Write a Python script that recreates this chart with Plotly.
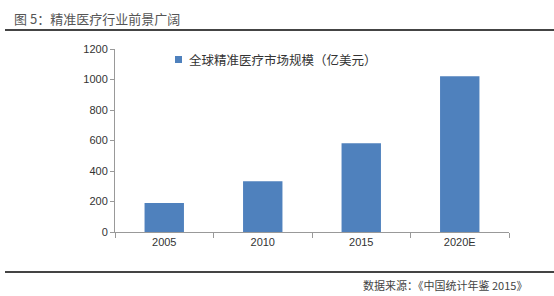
import plotly.graph_objects as go

categories = ["2005", "2010", "2015", "2020E"]
values = [190, 332, 582, 1022]
series_name = "全球精准医疗市场规模（亿美元）"
title_text = "图 5：精准医疗行业前景广阔"
source_text = "数据来源：《中国统计年鉴 2015》"

L, R, T, B = 115, 45, 49, 64
W, H = 554, 296
pw, ph = W - L - R, H - T - B

def px(x):
    return (x - L) / pw

def py(y):
    return (H - B - y) / ph

bar_color = "#4F81BD"

fig = go.Figure()
fig.add_trace(go.Bar(x=categories, y=values, name=series_name,
                     marker=dict(color=bar_color, line=dict(width=0)), width=0.4,
                     showlegend=False))

cjk = "Noto Sans CJK SC"
fig.update_layout(
    width=W, height=H,
    margin=dict(l=L, r=R, t=T, b=B),
    paper_bgcolor="white", plot_bgcolor="white",
    showlegend=False,
    xaxis=dict(type="category", showline=True, linecolor="#999", linewidth=1,
               ticks="outside", tickson="boundaries", ticklen=5, tickcolor="#999",
               tickfont=dict(family="Liberation Sans", size=11, color="#333"),
               showgrid=False),
    yaxis=dict(range=[0, 1200], dtick=200, showline=True, linecolor="#999", linewidth=1,
               ticks="outside", ticklen=4, tickcolor="#999",
               tickfont=dict(family="Liberation Sans", size=11, color="#333"),
               showgrid=False, zeroline=False),
)

# legend (drawn manually to match the reference placement)
fig.add_shape(type="rect", xref="paper", yref="paper", x0=px(175), x1=px(182),
              y0=py(63), y1=py(56), fillcolor=bar_color, line=dict(width=0))
fig.add_annotation(text=series_name, xref="paper", yref="paper", x=px(187), y=py(60),
                   xanchor="left", yanchor="middle", showarrow=False,
                   font=dict(family=cjk, size=12.5, color="#333"))

fig.add_shape(type="line", xref="paper", yref="paper", x0=px(5), x1=px(554),
              y0=py(30), y1=py(30), line=dict(color="#444", width=2))
fig.add_shape(type="line", xref="paper", yref="paper", x0=px(5), x1=px(554),
              y0=py(272), y1=py(272), line=dict(color="#444", width=2))
fig.add_annotation(text=title_text, xref="paper", yref="paper", x=px(12), y=py(18),
                   xanchor="left", yanchor="middle", showarrow=False,
                   font=dict(family=cjk, size=13, color="#555"))
fig.add_annotation(text=source_text, xref="paper", yref="paper", x=px(529), y=py(285),
                   xanchor="right", yanchor="middle", showarrow=False,
                   font=dict(family=cjk, size=11, color="#444"))

fig.write_html("out.html")
